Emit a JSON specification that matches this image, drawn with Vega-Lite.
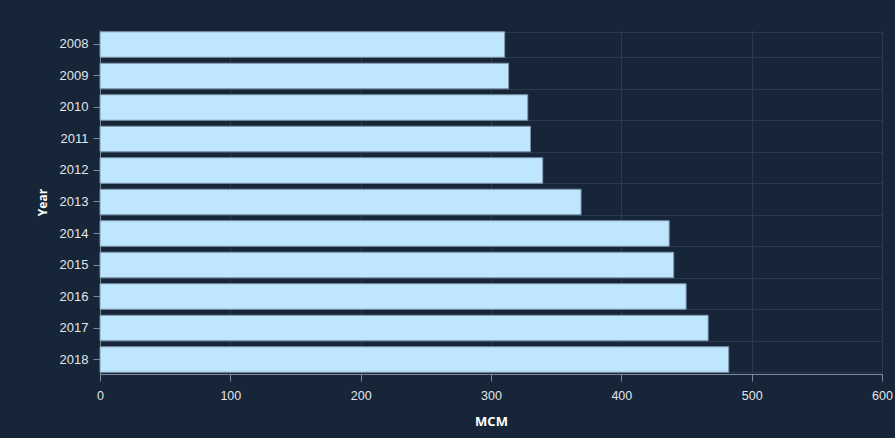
{
  "$schema": "https://vega.github.io/schema/vega-lite/v6.json",
  "width": 782,
  "height": 344,
  "autosize": {"type": "none"},
  "padding": {"left": 100, "top": 30, "right": 13, "bottom": 64},
  "background": "#172538",
  "data": {
    "values": [
      {"Year": "2008", "MCM": 310.5},
      {"Year": "2009", "MCM": 313.5},
      {"Year": "2010", "MCM": 328.2},
      {"Year": "2011", "MCM": 330.3},
      {"Year": "2012", "MCM": 339.7},
      {"Year": "2013", "MCM": 369.1},
      {"Year": "2014", "MCM": 436.7},
      {"Year": "2015", "MCM": 440.2},
      {"Year": "2016", "MCM": 449.7},
      {"Year": "2017", "MCM": 466.6},
      {"Year": "2018", "MCM": 482.4}
    ]
  },
  "layer": [
    {
      "mark": {"type": "bar", "fill": "#bfe6ff", "stroke": "#7d93a8", "strokeWidth": 1, "opacity": 0},
      "encoding": {
        "y": {
          "field": "Year",
          "type": "nominal",
          "sort": null,
          "scale": {"paddingInner": 0.19, "paddingOuter": 0.055},
          "axis": {
            "orient": "left",
            "tickBand": "extent",
            "grid": true,
            "gridColor": "#2a3a4e",
            "labels": false,
            "ticks": false,
            "domain": false,
            "title": null
          }
        },
        "x": {
          "field": "MCM",
          "type": "quantitative",
          "scale": {"domain": [0, 600]},
          "axis": {
            "title": "MCM",
            "values": [0, 100, 200, 300, 400, 500, 600],
            "grid": true,
            "gridColor": "#2a3a4e",
            "domainColor": "#7d8c9c",
            "tickColor": "#7d8c9c",
            "tickSize": 7,
            "labelFlush": false,
            "labelOverlap": false,
            "labelColor": "#e2e6ea",
            "labelFont": "Liberation Sans",
            "labelFontSize": 12.5,
            "labelPadding": 8,
            "titleColor": "#ffffff",
            "titleFont": "Open Sans",
            "titleFontSize": 13,
            "titleFontWeight": "bold",
            "titlePadding": 14
          }
        }
      }
    },
    {
      "mark": {"type": "bar", "fill": "#bfe6ff", "stroke": "#7d93a8", "strokeWidth": 1},
      "encoding": {
        "y": {
          "field": "Year",
          "type": "nominal",
          "sort": null,
          "scale": {"paddingInner": 0.19, "paddingOuter": 0.055},
          "axis": {
            "orient": "left",
            "title": "Year",
            "grid": false,
            "domainColor": "#7d8c9c",
            "tickColor": "#7d8c9c",
            "tickSize": 7,
            "labelColor": "#e2e6ea",
            "labelFont": "Liberation Sans",
            "labelFontSize": 13,
            "labelPadding": 5,
            "titleColor": "#ffffff",
            "titleFont": "Open Sans",
            "titleFontSize": 12,
            "titleFontWeight": "bold",
            "titlePadding": 10
          }
        },
        "x": {
          "field": "MCM",
          "type": "quantitative"
        }
      }
    }
  ],
  "resolve": {"axis": {"y": "independent"}},
  "config": {"view": {"stroke": null}}
}
